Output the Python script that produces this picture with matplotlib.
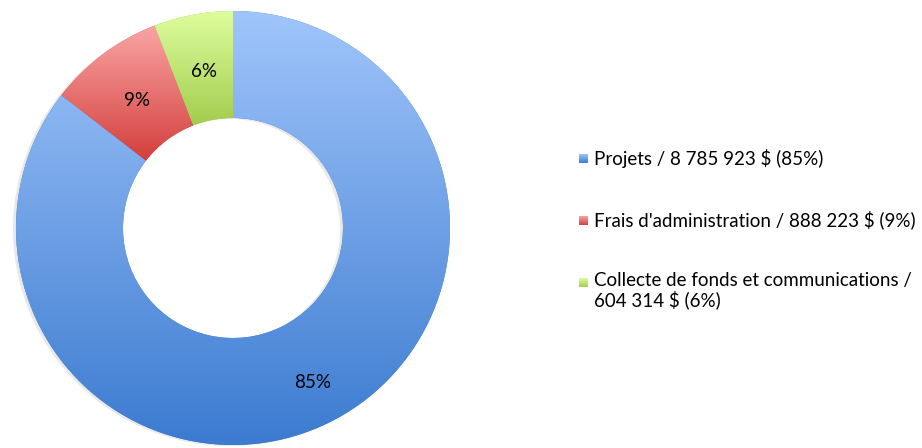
import numpy as np
import matplotlib
matplotlib.use("Agg")
import matplotlib.pyplot as plt
from matplotlib.colors import LinearSegmentedColormap

# data
labels = ["Projets", "Frais d'administration", "Collecte de fonds et communications"]
amounts = [8785923, 888223, 604314]
pct_labels = ["85%", "9%", "6%"]
legend_texts = ["Projets / 8 785 923 $ (85%)",
                "Frais d'administration / 888 223 $ (9%)",
                "Collecte de fonds et communications /\n604 314 $ (6%)"]
# gradient colours (top, bottom)
grads = [("#a0c5fb", "#3c7bd0"), ("#faa5a4", "#d23f3d"), ("#defd9e", "#a3cd4e")]

plt.rcParams['font.family'] = ['Lato', 'DejaVu Sans']

fig = plt.figure(figsize=(9.22, 4.48), dpi=100)
ax = fig.add_axes([0, 0, 1, 1])

cx, cy, r_out, r_in = 233, 220, 217, 110

# faint shadow on the left
sh, _ = ax.pie(amounts, radius=r_out, center=(cx - 3, cy - 1), startangle=90,
               counterclock=False, wedgeprops=dict(width=r_out - r_in, linewidth=0),
               colors=["#cccccc"] * 3, frame=True)
for w in sh:
    w.set_alpha(0.45)
    w.set_zorder(1)

wedges, _ = ax.pie(amounts, radius=r_out, center=(cx, cy), startangle=90,
                   counterclock=False, wedgeprops=dict(width=r_out - r_in, linewidth=0),
                   colors=[g[1] for g in grads], frame=True)

# vertical gradient fill for each wedge
grad = np.linspace(1, 0, 256).reshape(-1, 1)
for w, (top, bot) in zip(wedges, grads):
    w.set_zorder(2)
    cmap = LinearSegmentedColormap.from_list("g", [bot, top])
    bb = w.get_path().get_extents()
    im = ax.imshow(grad, extent=[bb.x0, bb.x1, bb.y0, bb.y1], cmap=cmap,
                   origin='upper', aspect='auto', zorder=3, interpolation='bilinear')
    im.set_clip_path(w)

# percentage labels
pct_pos = [(313, 448 - 382), (137, 448 - 100), (204, 448 - 71)]
for (x, y), t in zip(pct_pos, pct_labels):
    ax.text(x, y, t, ha='center', va='center', fontsize=13.5, color='black', zorder=5)

# legend
leg_y = [290, 228, 166]
for (top, bot), t, y in zip(grads, legend_texts, leg_y):
    cmap = LinearSegmentedColormap.from_list("g", [bot, top])
    ax.imshow(grad, extent=[579, 588, y - 5, y + 4], cmap=cmap, origin='upper',
              aspect='auto', zorder=3)
    if '\n' in t:
        ax.text(594, y + 10, t, ha='left', va='top', fontsize=13.5, color='black',
                linespacing=1.1)
    else:
        ax.text(594, y, t, ha='left', va='center', fontsize=13.5, color='black')

ax.set_xlim(0, 922)
ax.set_ylim(0, 448)
ax.set_aspect('equal')
ax.axis('off')

fig.savefig("out.png", dpi=100)
